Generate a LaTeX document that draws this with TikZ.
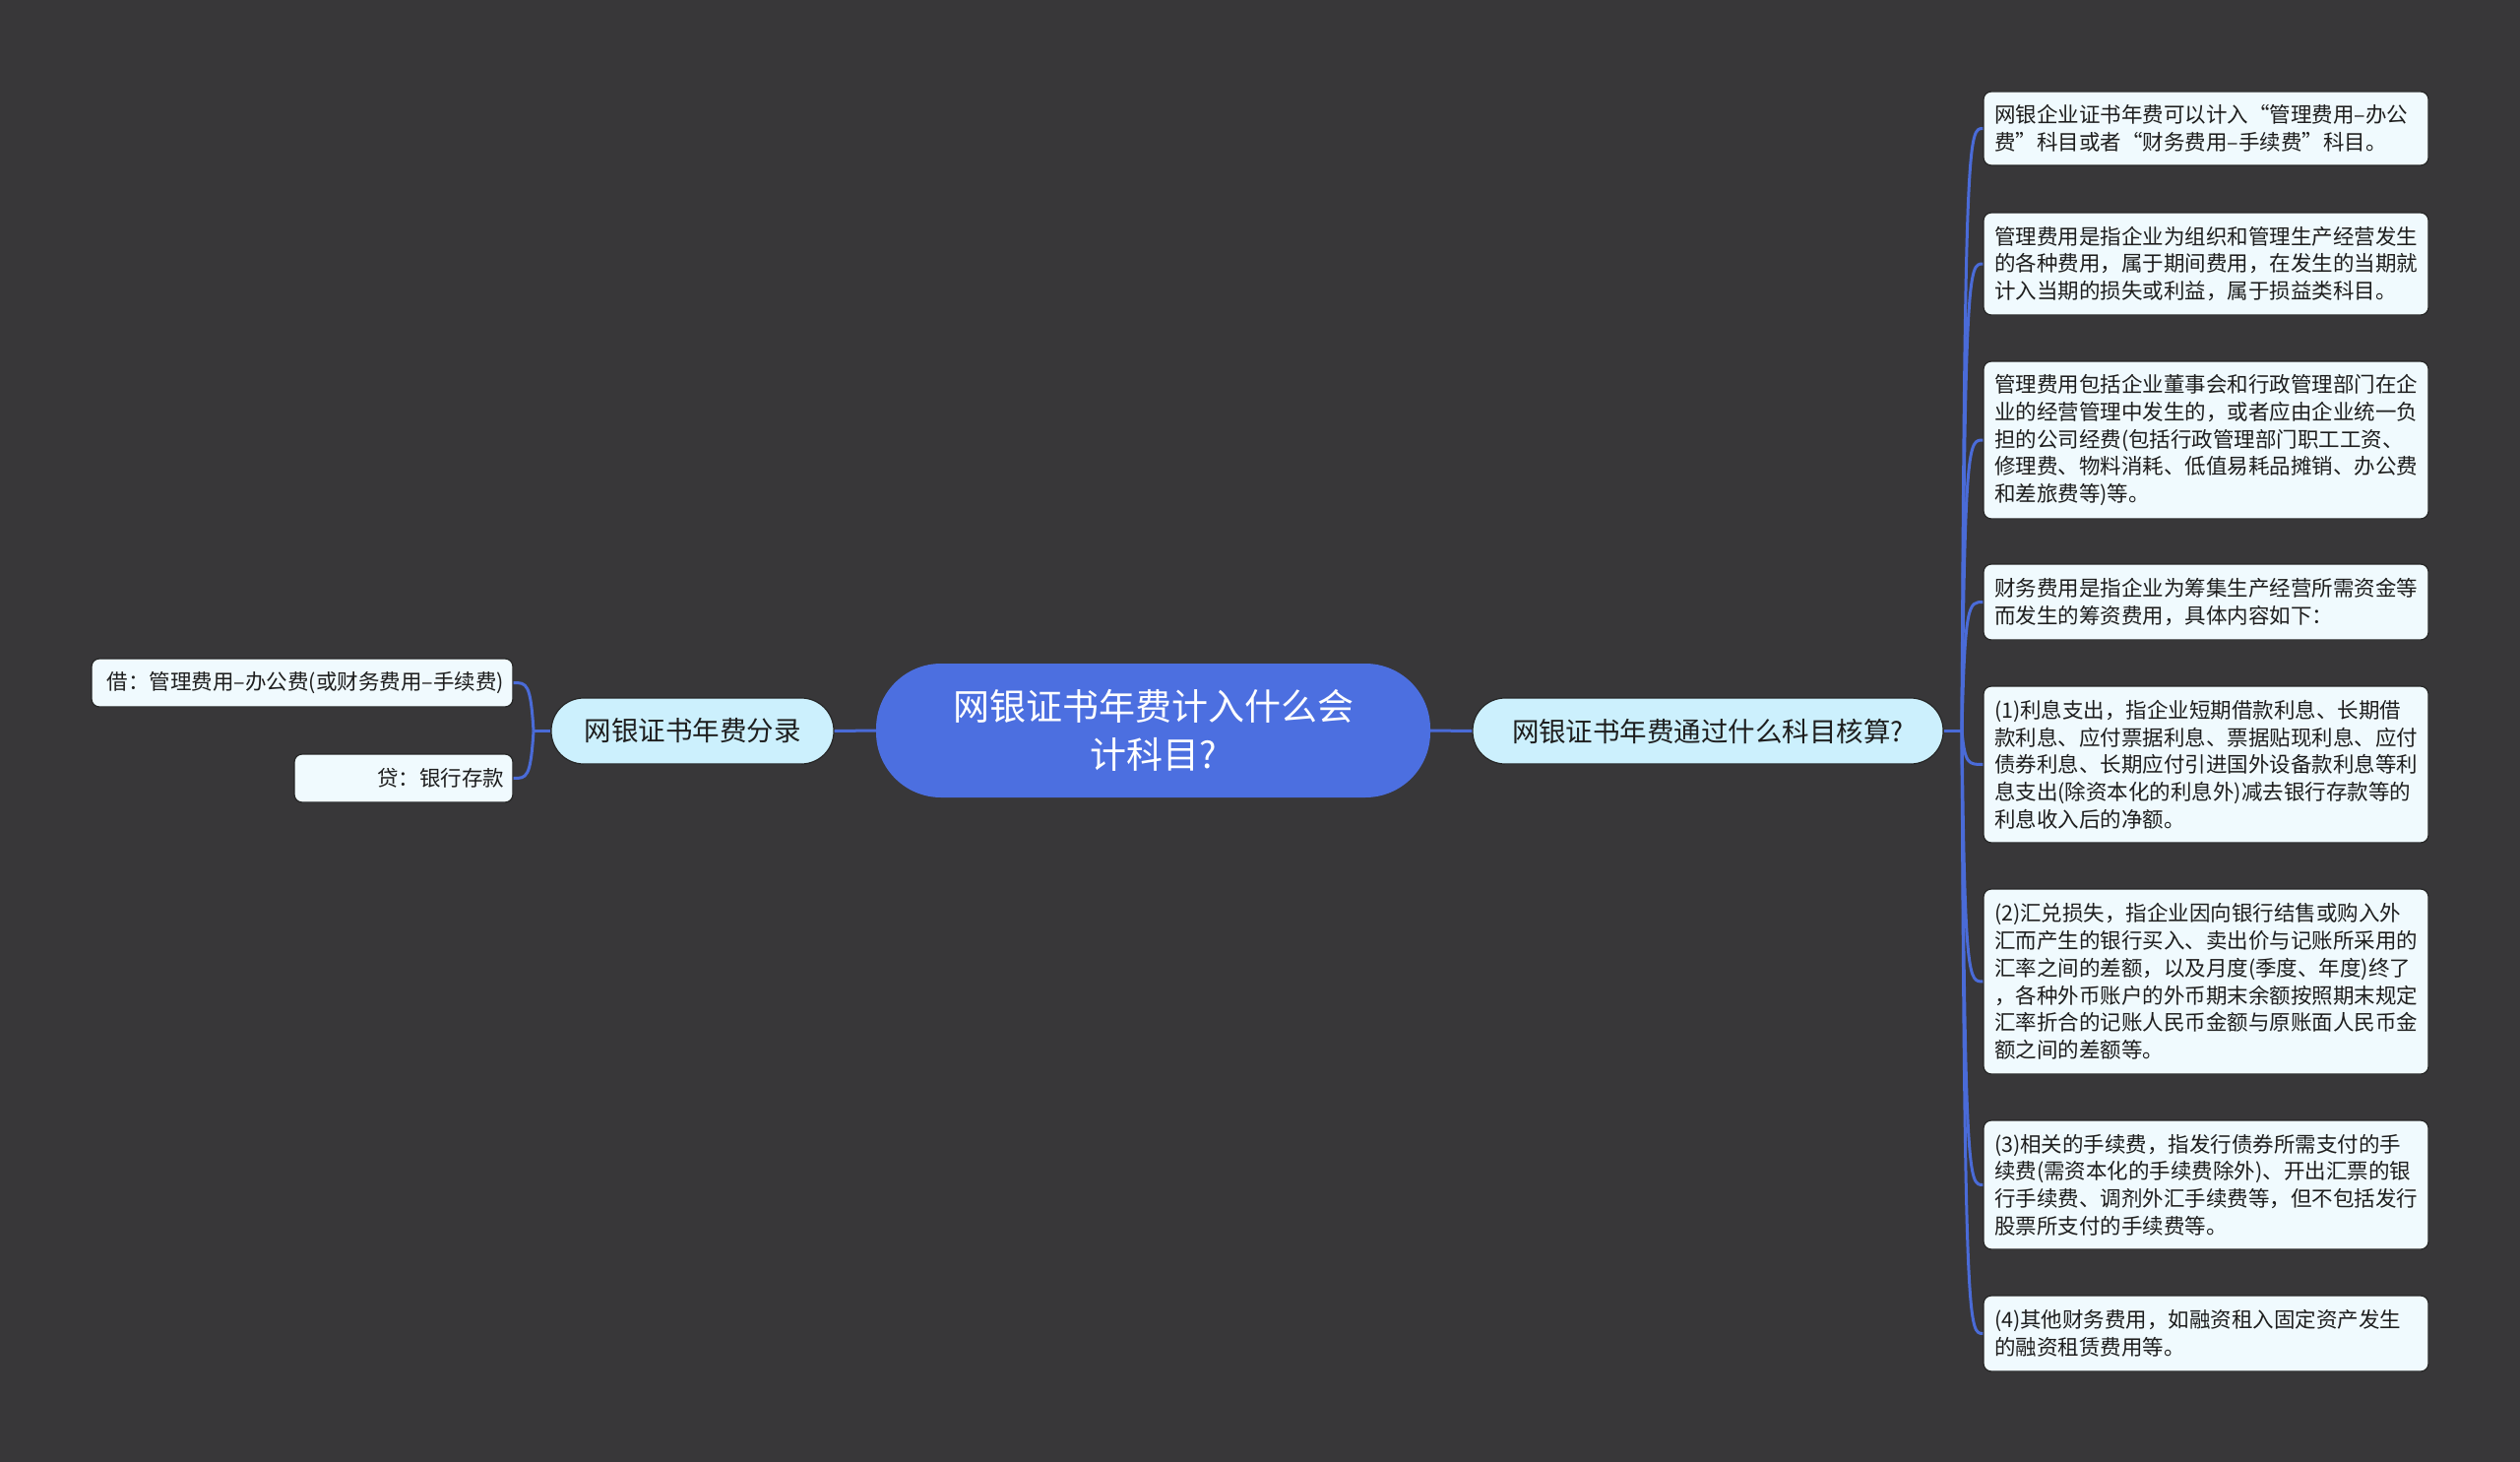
\documentclass[tikz,border=0pt]{standalone}
\usepackage{fontspec}
\setmainfont{Noto Sans CJK SC}
\usetikzlibrary{calc}
\definecolor{bgc}{HTML}{383739}
\definecolor{rootc}{HTML}{4C6FE0}
\definecolor{linec}{HTML}{4A6BD8}
\definecolor{subc}{HTML}{CCF0FD}
\definecolor{leafc}{HTML}{F0FAFE}
\definecolor{txtc}{HTML}{1E1E1E}
\tikzset{
  rootbox/.style={fill=rootc, rounded corners=66pt, inner sep=0pt, text=white, align=center,
    font=\fontsize{37}{49}\selectfont},
  subbox/.style={fill=subc, draw=black!85, line width=1.2pt, rounded corners=33pt, inner sep=0pt,
    text=txtc, align=center, minimum height=67pt, font=\fontsize{27.5}{34}\selectfont},
  leafbox/.style={fill=leafc, draw=black!85, line width=1.2pt, rounded corners=8pt, inner xsep=11pt, inner ysep=0pt,
    text=txtc, align=left, text width=430pt, font=\fontsize{21.5}{27.7}\selectfont},
  lleafbox/.style={fill=leafc, draw=black!85, line width=1.2pt, rounded corners=8pt, inner xsep=9pt, inner ysep=0pt,
    text=txtc, align=right, minimum height=49pt, font=\fontsize{21.5}{27.7}\selectfont},
  conn/.style={draw=linec, line width=3pt}
}
\begin{document}
\begin{tikzpicture}[x=1pt,y=-1pt]
\fill[bgc] (0,0) rectangle (2560,1485);
\useasboundingbox (0,0) rectangle (2560,1485);

% root and subs
\node[rootbox, minimum width=563pt, minimum height=136pt] (root) at (1171.5,742) {网银证书年费计入什么会\\计科目?};
\node[subbox, minimum width=287pt] (lsub) at (703.5,742.5) {网银证书年费分录};
\node[subbox, minimum width=478pt] (rsub) at (1735,742.5) {网银证书年费通过什么科目核算?};

% left leaves
\node[lleafbox, text width=410pt] (la) at (307,693.5) {借：管理费用–办公费(或财务费用–手续费)};
\node[lleafbox, text width=204pt] (lb) at (410,790.5) {贷：银行存款};

% right leaves
\node[leafbox, minimum height=75pt] (r1) at (2241,130.5) {网银企业证书年费可以计入“管理费用–办公\\费”科目或者“财务费用–手续费”科目。};
\node[leafbox, minimum height=104pt] (r2) at (2241,268) {管理费用是指企业为组织和管理生产经营发生\\的各种费用，属于期间费用，在发生的当期就\\计入当期的损失或利益，属于损益类科目。};
\node[leafbox, minimum height=160pt] (r3) at (2241,447) {管理费用包括企业董事会和行政管理部门在企\\业的经营管理中发生的，或者应由企业统一负\\担的公司经费(包括行政管理部门职工工资、\\修理费、物料消耗、低值易耗品摊销、办公费\\和差旅费等)等。};
\node[leafbox, minimum height=77pt] (r4) at (2241,611.5) {财务费用是指企业为筹集生产经营所需资金等\\而发生的筹资费用，具体内容如下：};
\node[leafbox, minimum height=159pt] (r5) at (2241,776.5) {(1)利息支出，指企业短期借款利息、长期借\\款利息、应付票据利息、票据贴现利息、应付\\债券利息、长期应付引进国外设备款利息等利\\息支出(除资本化的利息外)减去银行存款等的\\利息收入后的净额。};
\node[leafbox, minimum height=188pt] (r6) at (2241,997) {(2)汇兑损失，指企业因向银行结售或购入外\\汇而产生的银行买入、卖出价与记账所采用的\\汇率之间的差额，以及月度(季度、年度)终了\\，各种外币账户的外币期末余额按照期末规定\\汇率折合的记账人民币金额与原账面人民币金\\额之间的差额等。};
\node[leafbox, minimum height=131pt] (r7) at (2241,1203.5) {(3)相关的手续费，指发行债券所需支付的手\\续费(需资本化的手续费除外)、开出汇票的银\\行手续费、调剂外汇手续费等，但不包括发行\\股票所支付的手续费等。};
\node[leafbox, minimum height=77pt] (r8) at (2241,1354.5) {(4)其他财务费用，如融资租入固定资产发生\\的融资租赁费用等。};

% junctions
\coordinate (rj) at (1993,742.5);
\coordinate (rja) at (1996,742.5);
\coordinate (rjb) at (2000,742.5);
\coordinate (lj) at (542,742.5);
\coordinate (lja) at (539,742.5);
\coordinate (ljb) at (535,742.5);

\begin{scope}[on background layer/.style={}]
\draw[conn] (root.east) -- (rsub.west);
\draw[conn] (root.west) -- (lsub.east);
\draw[conn] (rsub.east) -- (rj);
\draw[conn] (lsub.west) -- (lj);
\foreach \n in {r1,r2,r3,r4,r5,r6,r7,r8}{
  \draw[conn] (rj) .. controls (rja |- \n.west) and (rjb |- \n.west) .. (\n.west);
}
\foreach \n in {la,lb}{
  \draw[conn] (lj) .. controls (lja |- \n.east) and (ljb |- \n.east) .. (\n.east);
}
\end{scope}
\end{tikzpicture}
\end{document}
